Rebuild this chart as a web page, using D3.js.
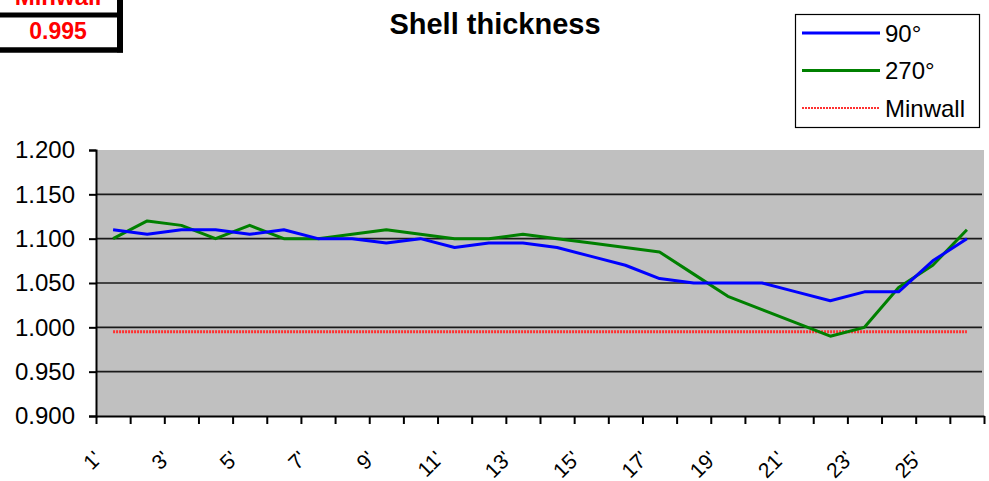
<!DOCTYPE html>
<html lang="en">
  <head>
    <meta charset="UTF-8" />
    <title>Shell thickness</title>
    <script src="https://d3js.org/d3.v7.min.js"></script>
    <style>
      body {
        margin: 0;
        background: #fff;
      }
      text {
        font-family: "Liberation Sans", Arial, sans-serif;
      }
      .line {
        fill: none;
        stroke-width: 3px;
        stroke-linejoin: round;
      }
    </style>
  </head>

  <body>
    <svg id="chart" width="989" height="481"></svg>
    <script>
      // data
      const categories = [
        "1'", "2'", "3'", "4'", "5'", "6'", "7'", "8'", "9'", "10'", "11'", "12'", "13'",
        "14'", "15'", "16'", "17'", "18'", "19'", "20'", "21'", "22'", "23'", "24'", "25'", "26'",
      ];
      const shownLabels = [
        "1'", "3'", "5'", "7'", "9'", "11'", "13'", "15'", "17'", "19'", "21'", "23'", "25'",
      ];
      const deg90 = [
        1.11, 1.105, 1.11, 1.11, 1.105, 1.11, 1.1, 1.1, 1.095, 1.1, 1.09, 1.095, 1.095,
        1.09, 1.08, 1.07, 1.055, 1.05, 1.05, 1.05, 1.04, 1.03, 1.04, 1.04, 1.075, 1.1,
      ];
      const deg270 = [
        1.1, 1.12, 1.115, 1.1, 1.115, 1.1, 1.1, 1.105, 1.11, 1.105, 1.1, 1.1, 1.105,
        1.1, 1.095, 1.09, 1.085, 1.06, 1.035, 1.02, 1.005, 0.99, 1.0, 1.045, 1.07, 1.11,
      ];
      const minwall = [
        0.995, 0.995, 0.995, 0.995, 0.995, 0.995, 0.995, 0.995, 0.995, 0.995, 0.995, 0.995, 0.995,
        0.995, 0.995, 0.995, 0.995, 0.995, 0.995, 0.995, 0.995, 0.995, 0.995, 0.995, 0.995, 0.995,
      ];
      const yTicks = [0.9, 0.95, 1.0, 1.05, 1.1, 1.15, 1.2];
      const minwallLabel = "Minwall";
      const minwallValue = "0.995";

      const svg = d3.select("#chart");
      const plot = { left: 96, right: 984, top: 150, bottom: 416 };

      const x = d3
        .scaleBand()
        .domain(categories)
        .range([plot.left, plot.right])
        .padding(0);
      const xIdx = d3
        .scaleLinear()
        .domain([0, categories.length])
        .range([plot.left, plot.right]);
      const y = d3
        .scaleLinear()
        .domain([0.9, 1.2])
        .range([plot.bottom, plot.top]);
      const cx = (c) => x(c) + x.bandwidth() / 2;

      // plot area
      svg
        .append("rect")
        .attr("x", plot.left)
        .attr("y", plot.top)
        .attr("width", plot.right - plot.left)
        .attr("height", plot.bottom - plot.top)
        .attr("fill", "#c0c0c0");

      // gridlines
      svg
        .append("g")
        .selectAll("line")
        .data(yTicks.filter((d) => d > 0.9 && d < 1.2))
        .enter()
        .append("line")
        .attr("x1", plot.left)
        .attr("x2", plot.right - 2)
        .attr("y1", (d) => y(d))
        .attr("y2", (d) => y(d))
        .attr("stroke", "#1a1a1a")
        .attr("stroke-width", 1.6);

      // y axis
      const yAxis = svg
        .append("g")
        .attr("transform", `translate(${plot.left},0)`)
        .call(
          d3
            .axisLeft(y)
            .tickValues(yTicks)
            .tickSize(7)
            .tickPadding(14)
            .tickFormat(d3.format(".3f"))
        );
      yAxis.select(".domain").attr("stroke", "#000").attr("stroke-width", 2);
      yAxis.selectAll(".tick line").attr("stroke", "#000").attr("stroke-width", 2);
      yAxis
        .selectAll(".tick text")
        .attr("fill", "#000")
        .style("font-size", "24px")
        .style("font-family", '"Liberation Sans", Arial, sans-serif');

      // x axis (ticks between categories)
      const xAxis = svg
        .append("g")
        .attr("transform", `translate(0,${plot.bottom})`)
        .call(
          d3
            .axisBottom(xIdx)
            .tickValues(d3.range(0, categories.length + 1))
            .tickSize(8)
            .tickSizeOuter(0)
            .tickFormat("")
        );
      xAxis.select(".domain").attr("stroke", "#000").attr("stroke-width", 2);
      xAxis.selectAll(".tick line").attr("stroke", "#000").attr("stroke-width", 2);

      svg
        .append("g")
        .selectAll("text")
        .data(shownLabels)
        .enter()
        .append("text")
        .attr("transform", (d) => `translate(${cx(d) - 10},460) rotate(-45)`)
        .attr("text-anchor", "end")
        .style("font-size", "21px")
        .attr("fill", "#000")
        .text((d) => d);

      // series
      const line = d3
        .line()
        .x((d, i) => cx(categories[i]))
        .y((d) => y(d));

      svg
        .append("path")
        .datum(minwall)
        .attr("class", "line")
        .attr("stroke", "#ff3030")
        .attr("stroke-width", 2)
        .attr("stroke-dasharray", "2,1")
        .attr("d", line);

      svg
        .append("path")
        .datum(deg270)
        .attr("class", "line")
        .attr("stroke", "#008000")
        .attr("d", line);

      svg
        .append("path")
        .datum(deg90)
        .attr("class", "line")
        .attr("stroke", "#0000ff")
        .attr("d", line);

      // title
      svg
        .append("text")
        .attr("x", 495)
        .attr("y", 34)
        .attr("text-anchor", "middle")
        .style("font-size", "29px")
        .style("font-weight", "bold")
        .text("Shell thickness");

      // legend
      const legend = svg.append("g").attr("transform", "translate(795,14)");
      legend
        .append("rect")
        .attr("x", 0.5)
        .attr("y", 0.5)
        .attr("width", 184)
        .attr("height", 113)
        .attr("fill", "#fff")
        .attr("stroke", "#000")
        .attr("stroke-width", 1.2);

      const keys = [
        { name: "90°", color: "#0000ff", dash: null, width: 3 },
        { name: "270°", color: "#008000", dash: null, width: 3 },
        { name: "Minwall", color: "#ff3030", dash: "2,1", width: 2 },
      ];
      const item = legend
        .selectAll(".item")
        .data(keys)
        .enter()
        .append("g")
        .attr("transform", (d, i) => `translate(0,${19 + i * 37.5})`);
      item
        .append("line")
        .attr("x1", 7)
        .attr("x2", 85)
        .attr("stroke", (d) => d.color)
        .attr("stroke-width", (d) => d.width)
        .attr("stroke-dasharray", (d) => d.dash);
      item
        .append("text")
        .attr("x", 90)
        .attr("y", 8.5)
        .style("font-size", "24px")
        .attr("fill", "#000")
        .text((d) => d.name);

      // minwall cell, top-left (cut off by the top edge as in the original)
      const cell = svg.append("g");
      cell
        .append("rect")
        .attr("x", -10)
        .attr("y", -10)
        .attr("width", 130)
        .attr("height", 60)
        .attr("fill", "#fff");
      cell
        .append("line")
        .attr("x1", 0)
        .attr("x2", 123)
        .attr("y1", 15)
        .attr("y2", 15)
        .attr("stroke", "#000")
        .attr("stroke-width", 5);
      cell
        .append("line")
        .attr("x1", 0)
        .attr("x2", 123)
        .attr("y1", 50)
        .attr("y2", 50)
        .attr("stroke", "#000")
        .attr("stroke-width", 5.5);
      cell
        .append("line")
        .attr("x1", 120)
        .attr("x2", 120)
        .attr("y1", 0)
        .attr("y2", 52.5)
        .attr("stroke", "#000")
        .attr("stroke-width", 6);
      cell
        .append("text")
        .attr("x", 58)
        .attr("y", 5)
        .attr("text-anchor", "middle")
        .style("font-size", "24px")
        .style("font-weight", "bold")
        .attr("fill", "#ff0000")
        .text(minwallLabel);
      cell
        .append("text")
        .attr("x", 58)
        .attr("y", 39)
        .attr("text-anchor", "middle")
        .style("font-size", "23px")
        .style("font-weight", "bold")
        .attr("fill", "#ff0000")
        .text(minwallValue);
    </script>
  </body>
</html>
